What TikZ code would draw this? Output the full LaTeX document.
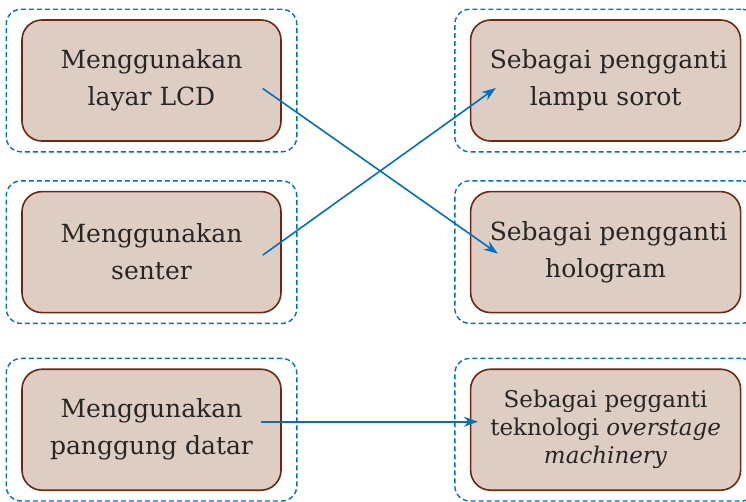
\documentclass[tikz,border=0pt]{standalone}
\usepackage{fontspec}
\setmainfont{DejaVu Serif}
\usetikzlibrary{arrows.meta,positioning,fit}

\definecolor{linkblue}{RGB}{0,112,192}
\definecolor{boxfill}{RGB}{222,205,195}
\definecolor{boxdraw}{RGB}{110,40,18}

\begin{document}
\begin{tikzpicture}[
        x=1pt, y=-1pt,
        node distance=49pt and 188pt,
        every path/.style={line width=1.6pt},
        item/.style={draw=boxdraw, fill=boxfill, rounded corners=20pt, align=center,
            minimum width=259pt, minimum height=121pt, inner sep=0pt,
            font=\fontsize{25}{37}\selectfont, text=black!85},
        answer/.style={item, minimum width=270pt},
        frame/.style={draw=linkblue, dashed, dash pattern=on 5pt off 3pt, rounded corners=15pt,
            line width=1.4pt, inner xsep=15pt, inner ysep=10pt},
        link/.style={draw=linkblue, -{Stealth[length=14pt,width=10pt]}}
    ]
    \useasboundingbox (0,0) rectangle (746,501);

    % Nodes
    \node (lcd)[item] at (151.5,80.5) {Menggunakan \\ layar LCD};
    \node (senter)[item, below=of lcd] {Menggunakan \\ senter};
    \node (datar)[item, below=55pt of senter] {Menggunakan \\ panggung datar};

    \node (sorot)[answer, right=of lcd] {\hspace*{6pt}Sebagai pengganti \\ lampu sorot};
    \node (holo)[answer, below=of sorot] {\hspace*{6pt}Sebagai pengganti \\ hologram};
    \node (stage)[answer, below=55pt of holo, font=\fontsize{23}{28}\selectfont]
        {Sebagai pegganti \\ teknologi \textit{overstage} \\ \textit{machinery}};

    % Frames
    \node[frame, fit=(lcd)] {};
    \node[frame, fit=(senter)] {};
    \node[frame, fit=(datar)] {};
    \node[frame, fit=(sorot)] {};
    \node[frame, fit=(holo)] {};
    \node[frame, fit=(stage)] {};

    % Edges
    \draw[link] ([shift={(-19,8)}]lcd.east) -- ([shift={(28,1.5)}]holo.west);
    \draw[link] ([shift={(-19,3)}]senter.east) -- ([shift={(26,7.5)}]sorot.west);
    \draw[link] ([shift={(-21,-8)}]datar.east) -- ([shift={(8,-8)}]stage.west);

\end{tikzpicture}
\end{document}
